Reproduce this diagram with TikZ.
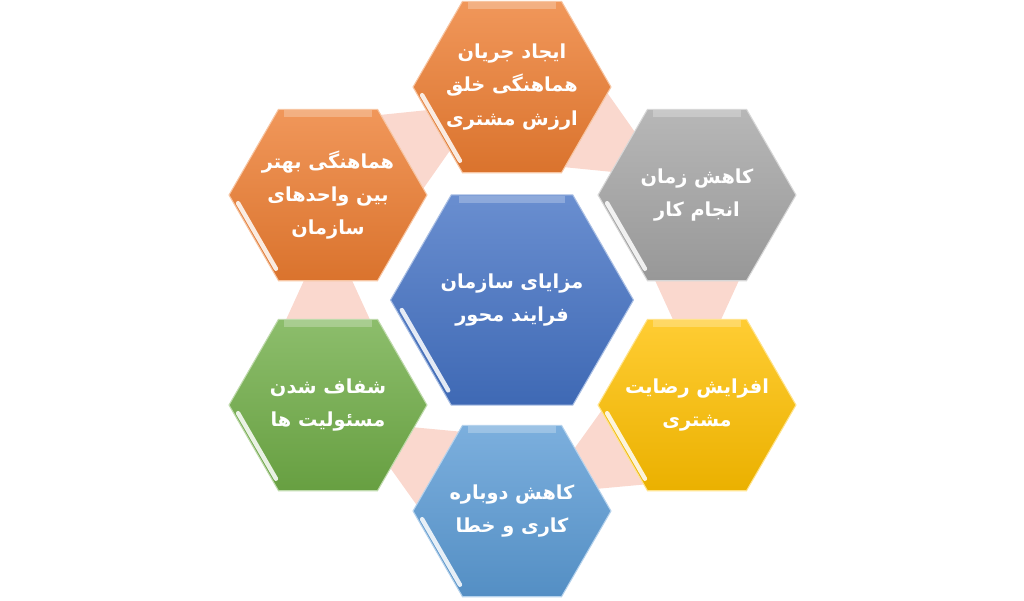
\documentclass[tikz,border=0pt]{standalone}
\usepackage{fontspec}
\newfontfamily\fafont[Script=Arabic]{DejaVu Sans}
\TeXXeTstate=1
\usetikzlibrary{shapes.geometric,calc}

\definecolor{hexorange}{RGB}{237,125,49}
\definecolor{hexgray}{RGB}{165,165,165}
\definecolor{hexyellow}{RGB}{255,192,0}
\definecolor{hexsky}{RGB}{91,155,213}
\definecolor{hexgreen}{RGB}{112,173,71}
\definecolor{hexblue}{RGB}{68,114,196}
\definecolor{linkpink}{RGB}{248,203,190}

\tikzset{
  hexa/.style={regular polygon, regular polygon sides=6,
    minimum size=3.96cm, inner sep=0pt, draw=#1!45!white, line width=0.6pt,
    top color=#1!80!white, bottom color=#1!92!black},
  hextext/.style={text=white, font=\fafont\bfseries\fontsize{11}{19}\selectfont, align=center},
  linkfill/.style={fill=linkpink, fill opacity=0.75},
  shine/.style={white, line width=2.5pt, line cap=round, opacity=0.85},
  bevel/.style={white, line width=4pt, opacity=0.25},
}

\begin{document}
\begin{tikzpicture}[x=0.02cm,y=-0.02cm]
  \useasboundingbox (0,0) rectangle (1024,600);
  % centres of the hexagons
  \coordinate (pmid) at (512,300);
  \coordinate (ptop) at (512,87);
  \coordinate (pgray) at (697,195);
  \coordinate (pyellow) at (697,405);
  \coordinate (pbottom) at (512,511);
  \coordinate (pgreen) at (328,405);
  \coordinate (pleft) at (328,195);
  % links between the outer hexagons
  \foreach \a/\b in {ptop/pgray, pgray/pyellow, pyellow/pbottom, pbottom/pgreen, pgreen/pleft, pleft/ptop}{
    \coordinate (m) at ($(\a)!0.5!(\b)$);
    \coordinate (s) at ($(m)!-0.7cm!(\b)$);
    \coordinate (e) at ($(m)!0.7cm!(\b)$);
    \fill[linkfill] ($(s)!0.98cm!90:(\b)$) -- ($(e)!0.34cm!90:(\b)$)
      -- ($(e)!0.34cm!-90:(\b)$) -- ($(s)!0.98cm!-90:(\b)$) -- cycle;
  }
  % hexagons
  \node[hexa=hexblue, minimum size=4.86cm] (mid) at (pmid) {};
  \node[hexa=hexorange] (top) at (ptop) {};
  \node[hexa=hexgray] (gray) at (pgray) {};
  \node[hexa=hexyellow] (yellow) at (pyellow) {};
  \node[hexa=hexsky] (bottom) at (pbottom) {};
  \node[hexa=hexgreen] (green) at (pgreen) {};
  \node[hexa=hexorange] (left) at (pleft) {};
  \foreach \h in {mid, top, gray, yellow, bottom, green, left}{
    \draw[shine] ($(\h.corner 3)!0.1!(\h.corner 4)!0.05!(\h.center)$)
      -- ($(\h.corner 3)!0.9!(\h.corner 4)!0.05!(\h.center)$);
    \draw[bevel] ($(\h.corner 1)!0.04!(\h.corner 2)!0.05!(\h.center)$)
      -- ($(\h.corner 1)!0.96!(\h.corner 2)!0.05!(\h.center)$);
  }
  % labels
  \node[hextext] (tmid) at (mid) {\beginR مزایای سازمان\endR\\\beginR فرایند محور\endR};
  \node[hextext] (ttop) at (top) {\beginR ایجاد جریان\endR\\\beginR هماهنگی خلق\endR\\\beginR ارزش مشتری\endR};
  \node[hextext] (tgray) at (gray) {\beginR کاهش زمان\endR\\\beginR انجام کار\endR};
  \node[hextext] (tyellow) at (yellow) {\beginR افزایش رضایت\endR\\\beginR مشتری\endR};
  \node[hextext] (tbottom) at (bottom) {\beginR کاهش دوباره\endR\\\beginR کاری و خطا\endR};
  \node[hextext] (tgreen) at (green) {\beginR شفاف شدن\endR\\\beginR مسئولیت ها\endR};
  \node[hextext] (tleft) at (left) {\beginR هماهنگی بهتر\endR\\\beginR بین واحدهای\endR\\\beginR سازمان\endR};
\end{tikzpicture}
\end{document}
